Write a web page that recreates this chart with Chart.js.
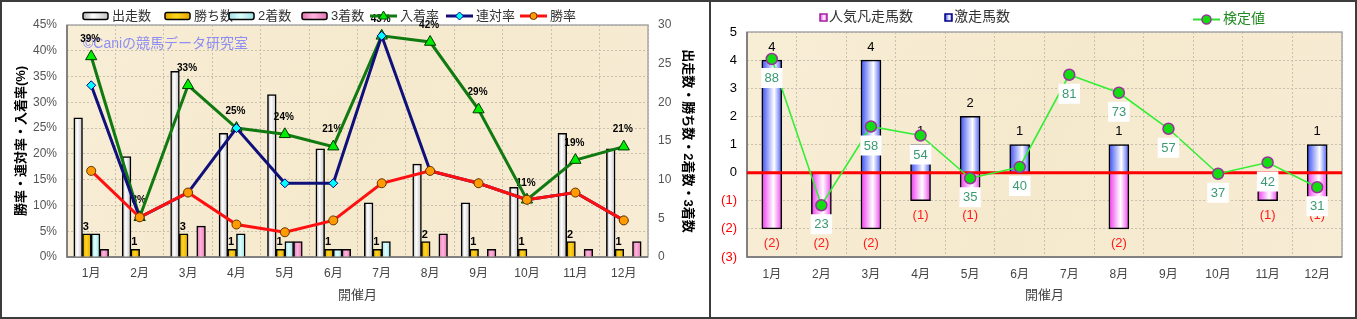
<!DOCTYPE html>
<html>
<head>
<meta charset="utf-8">
<script src="https://cdn.jsdelivr.net/npm/chart.js@4.4.0/dist/chart.umd.min.js"></script>
<style>
html, body { margin: 0; padding: 0; background: #fff; }
#wrap { position: relative; width: 1357px; height: 319px; overflow: hidden; }
canvas { position: absolute; top: 0; }
.ln { position: absolute; background: #3c3c3c; }
</style>
</head>
<body>
<div id="wrap">
  <canvas id="c1" width="709" height="319" style="left:0"></canvas>
  <canvas id="c2" width="645" height="319" style="left:711px"></canvas>
  <div class="ln" style="left:0;top:0;width:1357px;height:2px"></div>
  <div class="ln" style="left:0;top:317px;width:1357px;height:2px"></div>
  <div class="ln" style="left:0;top:0;width:2px;height:319px"></div>
  <div class="ln" style="left:1355px;top:0;width:2px;height:319px"></div>
  <div class="ln" style="left:709px;top:0;width:2px;height:319px"></div>
</div>
<script>
// --- data (left chart) ---
const months = ['1月', '2月', '3月', '4月', '5月', '6月', '7月', '8月', '9月', '10月', '11月', '12月'];
const runs = [18, 13, 24, 16, 21, 14, 7, 12, 7, 9, 16, 14];      // 出走数
const wins = [3, 1, 3, 1, 1, 1, 1, 2, 1, 1, 2, 1];               // 勝ち数
const seconds = [3, 0, 0, 3, 2, 1, 2, 0, 0, 0, 0, 0];            // 2着数
const thirds = [1, 0, 4, 0, 2, 1, 0, 3, 1, 0, 1, 2];             // 3着数
const placeRate = [38.9, 7.7, 33.3, 25.0, 23.8, 21.4, 42.9, 41.7, 28.6, 11.1, 18.8, 21.4]; // 入着率
const rentaiRate = [33.3, 7.7, 12.5, 25.0, 14.3, 14.3, 42.9, 16.7, 14.3, 11.1, 12.5, 7.1]; // 連対率
const winRate = [16.7, 7.7, 12.5, 6.3, 4.8, 7.1, 14.3, 16.7, 14.3, 11.1, 12.5, 7.1];      // 勝率

// --- data (right chart) ---
const hitCount = [4, 0, 4, 1, 2, 1, 0, 1, 0, 0, 0, 1];             // 激走馬数
const flopCount = [-2, -2, -2, -1, -1, 0, 0, -2, 0, 0, -1, -1];    // 人気凡走馬数
const testValue = [88, 23, 58, 54, 35, 40, 81, 73, 57, 37, 42, 31]; // 検定値

Chart.defaults.font.family = "'Liberation Sans','Noto Sans CJK JP',sans-serif";
Chart.defaults.animation = false;

const FONT = "'Liberation Sans','Noto Sans CJK JP',sans-serif";
const GRID = '#c9c0ae';

function hGrad(ctx, x0, x1, stops) {
    const g = ctx.createLinearGradient(x0, 0, x1, 0);
    stops.forEach(s => g.addColorStop(s[0], s[1]));
    return g;
}

const runStops = [[0, '#b4b4b4'], [0.4, '#ffffff'], [1, '#c2c2c2']];
const winStops = [[0, '#e2a800'], [0.45, '#ffd420'], [1, '#e2a800']];
const secStops = [[0, '#9fdfe4'], [0.45, '#dcffff'], [1, '#9fdfe4']];
const thrStops = [[0, '#e474b4'], [0.45, '#ffb4dc'], [1, '#e474b4']];
const blueStops = [[0, '#3a4ef2'], [0.62, '#ffffff'], [1, '#4a5cf4']];
const pinkStops = [[0, '#ee38ee'], [0.58, '#ffffff'], [1, '#ee48ee']];

const T1 = 8.7;
function leftBarFill(k, stops, flat) {
    return (c) => {
        const xs = c.chart.scales.x;
        if (c.type !== 'data' || !xs) return flat;
        const cx = xs.getPixelForValue(c.dataIndex) + (k - 1.5) * T1;
        if (!isFinite(cx)) return flat;
        return hGrad(c.chart.ctx, cx - T1 / 2, cx + T1 / 2, stops);
    };
}
const T2 = 20;
function rightBarFill(stops, flat) {
    return (c) => {
        const xs = c.chart.scales.x;
        if (c.type !== 'data' || !xs) return flat;
        const cx = xs.getPixelForValue(c.dataIndex);
        if (!isFinite(cx)) return flat;
        return hGrad(c.chart.ctx, cx - T2 / 2, cx + T2 / 2, stops);
    };
}

function drawMarker(ctx, type, x, y, r, fill, stroke, lw) {
    ctx.save();
    ctx.beginPath();
    if (type === 'triangle') {
        ctx.moveTo(x, y - r);
        ctx.lineTo(x + r * 0.95, y + r * 0.6);
        ctx.lineTo(x - r * 0.95, y + r * 0.6);
        ctx.closePath();
    } else if (type === 'diamond') {
        ctx.moveTo(x, y - r);
        ctx.lineTo(x + r, y);
        ctx.lineTo(x, y + r);
        ctx.lineTo(x - r, y);
        ctx.closePath();
    } else {
        ctx.arc(x, y, r, 0, Math.PI * 2);
    }
    ctx.fillStyle = fill;
    ctx.fill();
    ctx.lineWidth = lw;
    ctx.strokeStyle = stroke;
    ctx.stroke();
    ctx.restore();
}

function roundRect(ctx, x, y, w, h, r) {
    ctx.beginPath();
    ctx.moveTo(x + r, y);
    ctx.lineTo(x + w - r, y);
    ctx.quadraticCurveTo(x + w, y, x + w, y + r);
    ctx.lineTo(x + w, y + h - r);
    ctx.quadraticCurveTo(x + w, y + h, x + w - r, y + h);
    ctx.lineTo(x + r, y + h);
    ctx.quadraticCurveTo(x, y + h, x, y + h - r);
    ctx.lineTo(x, y + r);
    ctx.quadraticCurveTo(x, y, x + r, y);
    ctx.closePath();
}

// shared plot background + frame
const plotFrame = {
    id: 'plotFrame',
    beforeDraw(chart) {
        const {ctx, chartArea: a} = chart;
        ctx.save();
        const g = ctx.createLinearGradient(a.left, a.top, a.right, a.bottom);
        g.addColorStop(0, '#f8eed6');
        g.addColorStop(0.5, '#f5e9cd');
        g.addColorStop(1, '#f7ecd4');
        ctx.fillStyle = g;
        ctx.fillRect(a.left, a.top, a.right - a.left, a.bottom - a.top);
        ctx.restore();
    },
    beforeDatasetsDraw(chart) {
        const {ctx, chartArea: a} = chart;
        ctx.save();
        ctx.strokeStyle = '#a8a8a8';
        ctx.lineWidth = 1.5;
        ctx.strokeRect(a.left, a.top, a.right - a.left, a.bottom - a.top);
        ctx.strokeStyle = '#707070';
        ctx.lineWidth = 1.5;
        ctx.beginPath();
        ctx.moveTo(a.left, a.top);
        ctx.lineTo(a.left, a.bottom);
        ctx.lineTo(a.right, a.bottom);
        ctx.stroke();
        ctx.restore();
    }
};

// ---------------- left chart ----------------
const leftLabels = {
    id: 'leftLabels',
    beforeDatasetsDraw(chart) {
        const ctx = chart.ctx;
        ctx.save();
        ctx.font = '14px ' + FONT;
        ctx.fillStyle = '#8e8ef2';
        ctx.textAlign = 'left';
        ctx.textBaseline = 'middle';
        ctx.fillText('©Caniの競馬データ研究室', 83, 44);
        ctx.restore();
    },
    beforeDatasetDraw(chart, args) {
        if (args.index !== 4) return;
        const ctx = chart.ctx;
        ctx.save();
        ctx.fillStyle = '#000';
        ctx.textAlign = 'center';
        ctx.textBaseline = 'middle';
        ctx.font = 'bold 11px ' + FONT;
        chart.getDatasetMeta(1).data.forEach((bar, i) => {
            ctx.fillText(String(wins[i]), bar.x - 1, bar.y - 7);
        });
        ctx.font = 'bold 10px ' + FONT;
        chart.getDatasetMeta(4).data.forEach((pt, i) => {
            ctx.fillText(Math.round(placeRate[i]) + '%', pt.x - 1, pt.y - 17);
        });
        ctx.restore();
    },
    afterDraw(chart) {
        const ctx = chart.ctx;
        const y = 16;
        ctx.save();
        ctx.font = '13px ' + FONT;
        ctx.fillStyle = '#333';
        ctx.textBaseline = 'middle';
        ctx.textAlign = 'left';
        const boxes = [
            [83, '出走数', runStops],
            [165, '勝ち数', winStops],
            [229, '2着数', secStops],
            [302, '3着数', thrStops]
        ];
        boxes.forEach(([x, label, stops]) => {
            roundRect(ctx, x, y - 3.5, 25, 7, 2);
            ctx.fillStyle = hGrad(ctx, x, x + 25, stops);
            ctx.fill();
            ctx.lineWidth = 1.5;
            ctx.strokeStyle = '#000';
            ctx.stroke();
            ctx.fillStyle = '#333';
            ctx.fillText(label, x + 29, y);
        });
        const lines = [
            [370, '入着率', '#107a10', 'triangle', '#00ee00', '#004000', 5],
            [446, '連対率', '#10107a', 'diamond', '#00ffff', '#000080', 4],
            [520, '勝率', '#ff1010', 'circle', '#ff9a00', '#663300', 3.5]
        ];
        lines.forEach(([x, label, col, mk, fill, stroke, r]) => {
            ctx.beginPath();
            ctx.moveTo(x, y);
            ctx.lineTo(x + 27, y);
            ctx.lineWidth = 3;
            ctx.strokeStyle = col;
            ctx.stroke();
            drawMarker(ctx, mk, x + 13.5, y, r, fill, stroke, 1);
            ctx.fillStyle = '#333';
            ctx.fillText(label, x + 30, y);
        });
        ctx.restore();
    }
};

new Chart(document.getElementById('c1'), {
    type: 'bar',
    data: {
        labels: months,
        datasets: [
            { label: '出走数', data: runs, order: 10, yAxisID: 'y1',
              backgroundColor: leftBarFill(0, runStops, '#eeeeee'), borderColor: '#000', borderWidth: 1.5, barThickness: T1 },
            { label: '勝ち数', data: wins, order: 11, yAxisID: 'y1',
              backgroundColor: leftBarFill(1, winStops, '#f2c200'), borderColor: '#000', borderWidth: 1.5, barThickness: T1 },
            { label: '2着数', data: seconds, order: 12, yAxisID: 'y1',
              backgroundColor: leftBarFill(2, secStops, '#b8eef0'), borderColor: '#000', borderWidth: 1.5, barThickness: T1 },
            { label: '3着数', data: thirds, order: 13, yAxisID: 'y1',
              backgroundColor: leftBarFill(3, thrStops, '#f290c8'), borderColor: '#000', borderWidth: 1.5, barThickness: T1 },
            { type: 'line', label: '入着率', data: placeRate, order: 3, yAxisID: 'y',
              borderColor: '#107a10', borderWidth: 3, pointStyle: 'triangle', pointRadius: 6.5,
              pointBackgroundColor: '#00ee00', pointBorderColor: '#003800', pointBorderWidth: 1 },
            { type: 'line', label: '連対率', data: rentaiRate, order: 2, yAxisID: 'y',
              borderColor: '#10107a', borderWidth: 3, pointStyle: 'rectRot', pointRadius: 4.5,
              pointBackgroundColor: '#00ffff', pointBorderColor: '#000080', pointBorderWidth: 1 },
            { type: 'line', label: '勝率', data: winRate, order: 1, yAxisID: 'y',
              borderColor: '#ff1010', borderWidth: 3, pointStyle: 'circle', pointRadius: 4.5,
              pointBackgroundColor: '#ff9a00', pointBorderColor: '#663300', pointBorderWidth: 1 }
        ]
    },
    options: {
        responsive: false,
        devicePixelRatio: 1,
        layout: { padding: { top: 25, left: 0, right: 0, bottom: 0 } },
        plugins: { legend: { display: false }, tooltip: { enabled: false } },
        scales: {
            x: {
                grid: { color: GRID, drawTicks: false, borderDash: [2, 2] },
                border: { display: false, dash: [2, 2] },
                ticks: { color: '#444', font: { size: 12 }, padding: 9 },
                title: { display: true, text: '開催月', color: '#444', font: { size: 13 }, padding: { top: 0, bottom: 16 } },
                afterFit: (s) => { s.height = 62; }
            },
            y: {
                position: 'left', min: 0, max: 45,
                grid: { color: GRID, drawTicks: false, borderDash: [2, 2] },
                border: { display: false, dash: [2, 2] },
                ticks: { stepSize: 5, color: '#555', font: { size: 12 }, padding: 10, callback: v => v + '%' },
                title: { display: true, text: '勝率・連対率・入着率(%)', color: '#000', font: { size: 13, weight: 'bold' }, padding: { top: 14, bottom: 0 } },
                afterFit: (s) => { s.width = 67; }
            },
            y1: {
                position: 'right', min: 0, max: 30,
                grid: { drawOnChartArea: false, drawTicks: false },
                border: { display: false },
                ticks: { stepSize: 5, color: '#555', font: { size: 12 }, padding: 10 },
                title: { display: true, text: '出走数・勝ち数・2着数・3着数', color: '#000', font: { size: 13, weight: 'bold' }, padding: { top: 14, bottom: 0 } },
                afterFit: (s) => { s.width = 61; }
            }
        }
    },
    plugins: [plotFrame, leftLabels]
});

// ---------------- right chart ----------------
const rightLabels = {
    id: 'rightLabels',
    beforeDatasetDraw(chart, args) {
        if (args.meta.type !== 'line') return;
        const ctx = chart.ctx;
        const a = chart.chartArea;
        ctx.save();
        ctx.font = '13px ' + FONT;
        ctx.textAlign = 'center';
        ctx.textBaseline = 'middle';
        ctx.fillStyle = '#000';
        chart.getDatasetMeta(1).data.forEach((bar, i) => {
            if (hitCount[i] > 0) ctx.fillText(String(hitCount[i]), bar.x, bar.y - 13);
        });
        ctx.fillStyle = '#ff1a1a';
        chart.getDatasetMeta(0).data.forEach((bar, i) => {
            if (flopCount[i] < 0) ctx.fillText('(' + (-flopCount[i]) + ')', bar.x, bar.y + 15);
        });
        const y0 = chart.scales.y.getPixelForValue(0);
        ctx.beginPath();
        ctx.moveTo(a.left, y0);
        ctx.lineTo(a.right, y0);
        ctx.lineWidth = 3;
        ctx.strokeStyle = '#ff0000';
        ctx.stroke();
        ctx.restore();
    },
    afterDatasetsDraw(chart) {
        const ctx = chart.ctx;
        ctx.save();
        ctx.font = '13px ' + FONT;
        ctx.textAlign = 'center';
        ctx.textBaseline = 'middle';
        chart.getDatasetMeta(2).data.forEach((pt, i) => {
            const t = String(testValue[i]);
            const w = ctx.measureText(t).width + 7;
            const cy = pt.y + 19;
            ctx.fillStyle = '#ffffff';
            ctx.fillRect(pt.x - w / 2, cy - 10, w, 20);
            ctx.fillStyle = '#3a9a70';
            ctx.fillText(t, pt.x, cy + 0.5);
        });
        ctx.restore();
    },
    afterDraw(chart) {
        const ctx = chart.ctx;
        ctx.save();
        ctx.font = '14px ' + FONT;
        ctx.textBaseline = 'middle';
        ctx.textAlign = 'left';
        const sq = [
            [109, '人気凡走馬数', pinkStops, '#a020a0'],
            [234, '激走馬数', blueStops, '#000080']
        ];
        sq.forEach(([x, label, stops, border]) => {
            ctx.fillStyle = hGrad(ctx, x, x + 7, stops);
            ctx.fillRect(x, 14, 7, 7);
            ctx.lineWidth = 1.5;
            ctx.strokeStyle = border;
            ctx.strokeRect(x, 14, 7, 7);
            ctx.fillStyle = '#333';
            ctx.fillText(label, x + 9, 17.5);
        });
        ctx.beginPath();
        ctx.moveTo(482, 19.5);
        ctx.lineTo(509, 19.5);
        ctx.lineWidth = 2;
        ctx.strokeStyle = '#33dd33';
        ctx.stroke();
        drawMarker(ctx, 'circle', 495.5, 19.5, 4.5, '#11dd11', '#993399', 1.5);
        ctx.fillStyle = '#1e8a1e';
        ctx.fillText('検定値', 512, 19.5);
        ctx.restore();
    }
};

new Chart(document.getElementById('c2'), {
    type: 'bar',
    data: {
        labels: months,
        datasets: [
            { label: '人気凡走馬数', data: flopCount, order: 2,
              backgroundColor: rightBarFill(pinkStops, '#f080f0'), borderColor: '#000', borderWidth: 1.5, barThickness: T2 },
            { label: '激走馬数', data: hitCount, order: 1,
              backgroundColor: rightBarFill(blueStops, '#8090f0'), borderColor: '#000', borderWidth: 1.5, barThickness: T2 },
            { type: 'line', label: '検定値', data: testValue, order: 0, yAxisID: 'y2',
              borderColor: '#33ee33', borderWidth: 1.6, pointRadius: 5.5, pointStyle: 'circle',
              pointBackgroundColor: '#11dd11', pointBorderColor: '#993399', pointBorderWidth: 1.5 }
        ]
    },
    options: {
        responsive: false,
        devicePixelRatio: 1,
        layout: { padding: { top: 32, left: 0, right: 14, bottom: 0 } },
        plugins: { legend: { display: false }, tooltip: { enabled: false } },
        scales: {
            x: {
                stacked: true,
                grid: { color: GRID, drawTicks: false, borderDash: [2, 2] },
                border: { display: false, dash: [2, 2] },
                ticks: { color: '#444', font: { size: 12 }, padding: 10 },
                title: { display: true, text: '開催月', color: '#444', font: { size: 13 }, padding: { top: 0, bottom: 16 } },
                afterFit: (s) => { s.height = 62; }
            },
            y: {
                stacked: true, min: -3, max: 5,
                grid: { color: GRID, drawTicks: false, borderDash: [2, 2] },
                border: { display: false, dash: [2, 2] },
                ticks: {
                    stepSize: 1, padding: 10, font: { size: 13 },
                    color: (c) => (c.tick && c.tick.value < 0 ? '#ff0000' : '#000'),
                    callback: v => (v < 0 ? '(' + (-v) + ')' : v)
                },
                afterFit: (s) => { s.width = 36; }
            },
            y2: { display: false, min: 0, max: 100 }
        }
    },
    plugins: [plotFrame, rightLabels]
});
</script>
</body>
</html>
